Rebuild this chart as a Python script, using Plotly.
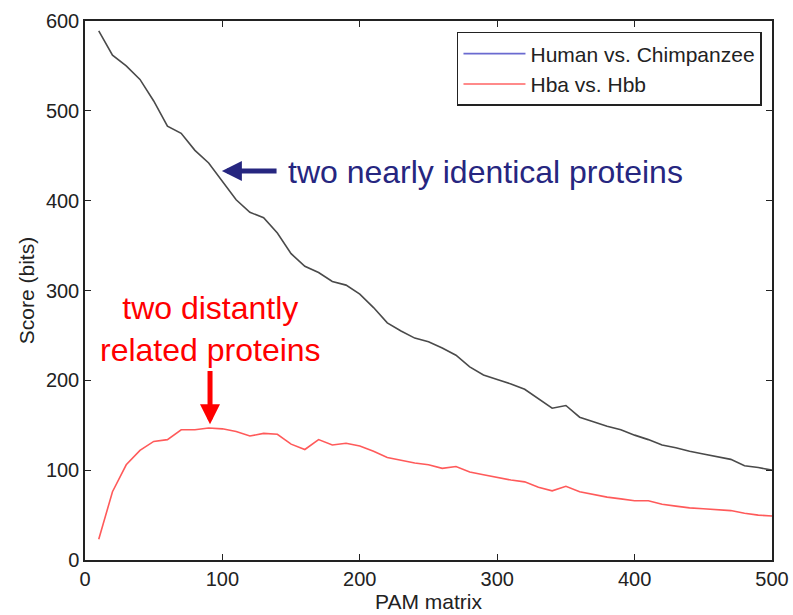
import plotly.graph_objects as go

pam = list(range(10, 501, 10))
human_chimp = [589, 562, 550, 535, 511, 483, 475, 456, 442, 421,
               401, 387, 381, 364, 341, 327, 320, 310, 306, 296,
               281, 264, 255, 247, 243, 236, 228, 215, 206, 201,
               196, 190, 179, 169, 172, 159, 154, 149, 145, 139,
               134, 128, 125, 121, 118, 115, 112, 105, 103, 100]
hba_hbb = [23, 76, 106, 122, 132, 134, 145, 145, 147, 146,
           143, 138, 141, 140, 129, 123, 134, 128, 130, 127,
           121, 114, 111, 108, 106, 102, 104, 98, 95, 92,
           89, 87, 81, 77, 82, 76, 73, 70, 68, 66,
           66, 62, 60, 58, 57, 56, 55, 52, 50, 49]
series_names = ["Human vs. Chimpanzee", "Hba vs. Hbb"]
x_ticks = [0, 100, 200, 300, 400, 500]
y_ticks = [0, 100, 200, 300, 400, 500, 600]

FONT = "Liberation Sans, Arial, Helvetica, sans-serif"

fig = go.Figure()
fig.add_trace(go.Scatter(x=pam, y=human_chimp, mode="lines",
                         line=dict(color="#4a4a4a", width=1.6), showlegend=False))
fig.add_trace(go.Scatter(x=pam, y=hba_hbb, mode="lines",
                         line=dict(color="#ff5a5a", width=1.6), showlegend=False))
# legend entries
fig.add_trace(go.Scatter(x=[None], y=[None], mode="lines", name=series_names[0],
                         line=dict(color="#6a6ad0", width=1.6)))
fig.add_trace(go.Scatter(x=[None], y=[None], mode="lines", name=series_names[1],
                         line=dict(color="#ff8a8a", width=2)))

axis_common = dict(showgrid=False, zeroline=False, showline=True, linecolor="#222",
                   linewidth=1.5, mirror="allticks", ticks="inside", ticklen=6,
                   tickcolor="#222", automargin=False,
                   tickfont=dict(family=FONT, size=20, color="#222"))

fig.update_xaxes(range=[0, 500], tickvals=x_ticks,
                 title=dict(text="PAM matrix", font=dict(family=FONT, size=21, color="#222"),
                            standoff=2), **axis_common)
fig.update_yaxes(range=[0, 600], tickvals=y_ticks,
                 title=dict(text="Score (bits)", font=dict(family=FONT, size=21, color="#222"),
                            standoff=6), **axis_common)

fig.add_annotation(x=99.6, y=433, ax=140.5, ay=433, xref="x", yref="y", axref="x", ayref="y",
                   showarrow=True, arrowhead=2, arrowsize=0.8, arrowwidth=5,
                   arrowcolor="#262680", text="")
fig.add_annotation(x=146, y=432, xref="x", yref="y", text="two nearly identical proteins",
                   showarrow=False, xanchor="left", yanchor="middle",
                   font=dict(family=FONT, size=32, color="#262680"))
fig.add_annotation(x=91, y=151, ax=91, ay=212, xref="x", yref="y", axref="x", ayref="y",
                   showarrow=True, arrowhead=2, arrowsize=0.8, arrowwidth=5,
                   arrowcolor="#ff0000", text="")
fig.add_annotation(x=91, y=257, xref="x", yref="y",
                   text="two distantly<br>related proteins",
                   showarrow=False, xanchor="center", yanchor="middle",
                   font=dict(family=FONT, size=32, color="#ff0000"))

fig.update_layout(
    width=793, height=615,
    margin=dict(l=85, r=21, t=21, b=55),
    plot_bgcolor="white", paper_bgcolor="white",
    legend=dict(x=0.9854, y=0.9796, xanchor="right", yanchor="top",
                bgcolor="white", bordercolor="#222", borderwidth=1.5,
                font=dict(family=FONT, size=21, color="#222"),
                tracegroupgap=0, itemwidth=62),
)

fig.write_html("out.html", config={"displayModeBar": False},
               post_script="document.body.style.margin='0px';document.body.style.overflow='hidden';")
